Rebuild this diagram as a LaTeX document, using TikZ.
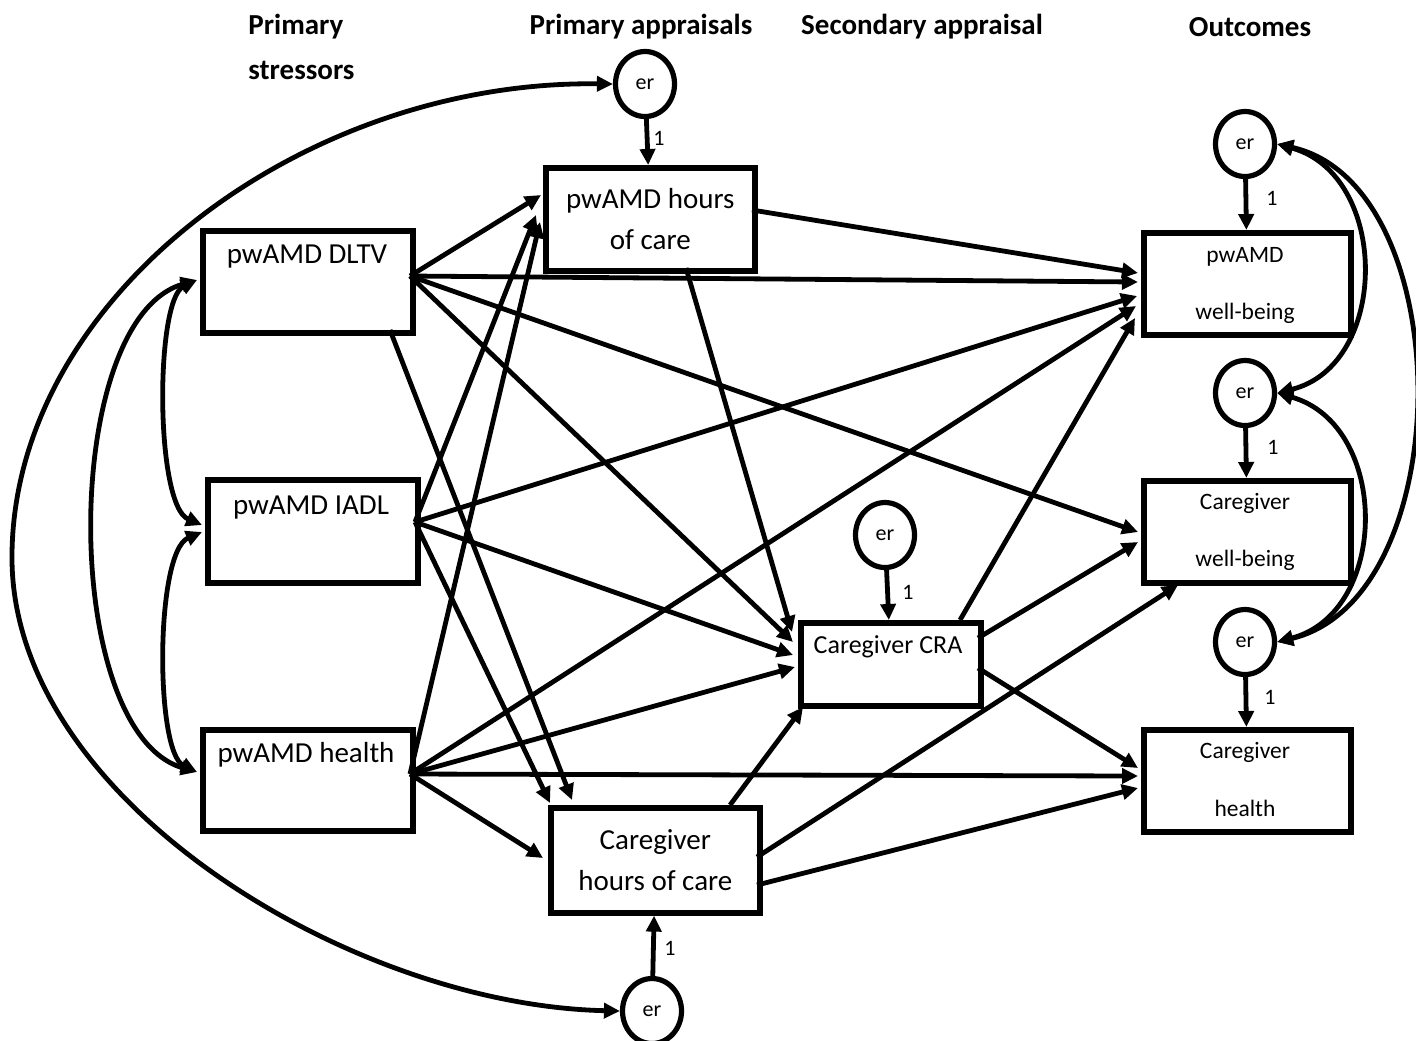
\documentclass[tikz,border=0pt]{standalone}
\usepackage{fontspec}
\setmainfont{Carlito}
\usetikzlibrary{arrows.meta,shapes.geometric,calc}
\newcommand\bigtxt{\fontsize{14.5}{20.5}\selectfont}
\newcommand\cratxt{\fontsize{13}{16}\selectfont}
\newcommand\outtxt{\fontsize{11.75}{29}\selectfont}
\newcommand\hdrtxt{\fontsize{14.5}{17}\selectfont\bfseries}
\newcommand\ertxt{\fontsize{11}{12}\selectfont}
\newcommand\onetxt{\fontsize{11}{12}\selectfont}
\begin{document}
\begin{tikzpicture}[x=0.5pt,y=-0.5pt,
  box/.style={draw,line width=2.8pt,anchor=north west,inner sep=0pt},
  er/.style={draw,ellipse,line width=2.6pt,minimum width=29.5pt,minimum height=32.5pt,inner sep=0pt,font=\ertxt},
  hdr/.style={inner sep=0pt,font=\hdrtxt},
  arr/.style={line width=2.4pt,-{Triangle[length=8pt,width=7.5pt]}},
  dbl/.style={line width=2.4pt,{Triangle[length=8pt,width=7.5pt]}-{Triangle[length=8pt,width=7.5pt]}},
  one/.style={inner sep=0pt,font=\onetxt}]
\fill[white] (0,0) rectangle (1416,1040);
\useasboundingbox (0,0) rectangle (1416,1040);

% headers
\node[hdr,anchor=west] (h1a) at (248,27) {Primary};
\node[hdr,anchor=west] (h1b) at (248,70) {stressors};
\node[hdr] (h2) at (641,27) {Primary appraisals};
\node[hdr] (h3) at (922,27) {Secondary appraisal};
\node[hdr] (h4) at (1250,27) {Outcomes};

% boxes
\node[box,minimum width=105pt,minimum height=51pt] (dltv) at (200,228) {};
\node[box,minimum width=105pt,minimum height=51.5pt] (iadl) at (205,477) {};
\node[box,minimum width=105pt,minimum height=50.5pt] (hlth) at (200,727) {};
\node[box,minimum width=104.5pt,minimum height=51.5pt,align=center,font=\bigtxt] (pwh) at (543,165) {pwAMD hours\\of care};
\node[box,minimum width=90pt,minimum height=41.5pt] (cra) at (798,620) {};
\node[box,minimum width=104.5pt,minimum height=52.5pt,align=center,font=\bigtxt] (cgh) at (548,805) {Caregiver\\hours of care};
\node[box,minimum width=103.5pt,minimum height=51pt] (pwb) at (1141,230) {};
\node[box,minimum width=103.5pt,minimum height=51pt] (cwb) at (1141,478) {};
\node[box,minimum width=103.5pt,minimum height=51pt] (chl) at (1141,727) {};

% box texts
\node[font=\bigtxt,inner sep=0pt] (dltvT) at (307,257) {pwAMD DLTV};
\node[font=\bigtxt,inner sep=0pt] (iadlT) at (311,508) {pwAMD IADL};
\node[font=\bigtxt,inner sep=0pt] (hlthT) at (306,755) {pwAMD health};
\node[font=\cratxt,inner sep=0pt] (craT) at (888,647) {Caregiver CRA};
\node[font=\outtxt,inner sep=0pt] (pwbT1) at (1245,257) {pwAMD};
\node[font=\outtxt,inner sep=0pt] (pwbT2) at (1245,313) {well-being};
\node[font=\outtxt,inner sep=0pt] (cwbT1) at (1245,503) {Caregiver};
\node[font=\outtxt,inner sep=0pt] (cwbT2) at (1245,560) {well-being};
\node[font=\outtxt,inner sep=0pt] (chlT1) at (1245,752) {Caregiver};
\node[font=\outtxt,inner sep=0pt] (chlT2) at (1245,808) {health};

% error terms
\node[er] (e1) at (645,84) {er};
\node[er] (e2) at (652,1011) {er};
\node[er] (e3) at (885,535) {er};
\node[er] (e4) at (1245,144) {er};
\node[er] (e5) at (1245,393) {er};
\node[er] (e6) at (1245,642) {er};

\node[one] (o1) at (659,138) {1};
\node[one] (o2) at (670,948) {1};
\node[one] (o3) at (908,592) {1};
\node[one] (o4) at (1272,198) {1};
\node[one] (o5) at (1273,447) {1};
\node[one] (o6) at (1270,697) {1};

% attachment points
\coordinate (dltvR) at ($(dltv.north west)+(210,48)$);
\coordinate (dltvB) at ($(dltv.north west)+(190,102)$);
\coordinate (dltvL) at ($(dltv.north west)+(-3,52)$);
\coordinate (iadlR) at ($(iadl.north west)+(210,45)$);
\coordinate (iadlL1) at ($(iadl.north west)+(-3,48)$);
\coordinate (iadlL2) at ($(iadl.north west)+(-3,55)$);
\coordinate (hlthR) at ($(hlth.north west)+(210,47)$);
\coordinate (hlthL) at ($(hlth.north west)+(-3,45)$);
\coordinate (pwhR) at ($(pwh.north west)+(209,45)$);
\coordinate (pwhB) at ($(pwh.north west)+(143,103)$);
\coordinate (pwhL1) at ($(pwh.north west)+(-2,30)$);
\coordinate (pwhL2) at ($(pwh.north west)+(-7,50)$);
\coordinate (pwhL3) at ($(pwh.north west)+(-3,57)$);
\coordinate (craTop) at ($(cra.north west)+(162,0)$);
\coordinate (craR1) at ($(cra.north west)+(180,18)$);
\coordinate (craR2) at ($(cra.north west)+(180,48)$);
\coordinate (craL1) at ($(cra.north west)+(-6,12)$);
\coordinate (craL2) at ($(cra.north west)+(-5,22)$);
\coordinate (craL3) at ($(cra.north west)+(-5,35)$);
\coordinate (craL4) at ($(cra.north west)+(-3,47)$);
\coordinate (craB) at ($(cra.north west)+(5,87)$);
\coordinate (cghTop) at ($(cgh.north west)+(182,0)$);
\coordinate (cghR1) at ($(cgh.north west)+(209,52)$);
\coordinate (cghR2) at ($(cgh.north west)+(209,80)$);
\coordinate (cghT1) at ($(cgh.north west)+(2,-2)$);
\coordinate (cghT2) at ($(cgh.north west)+(24,-5)$);
\coordinate (cghL) at ($(cgh.north west)+(-5,53)$);
\coordinate (pwbL1) at ($(pwb.north west)+(-3,43)$);
\coordinate (pwbL2) at ($(pwb.north west)+(-3,52)$);
\coordinate (pwbL3) at ($(pwb.north west)+(-4,66)$);
\coordinate (pwbL4) at ($(pwb.north west)+(-5,76)$);
\coordinate (pwbL5) at ($(pwb.north west)+(-6,88)$);
\coordinate (cwbL1) at ($(cwb.north west)+(-3,54)$);
\coordinate (cwbL2) at ($(cwb.north west)+(-3,64)$);
\coordinate (cwbB) at ($(cwb.north west)+(37,107)$);
\coordinate (chlL1) at ($(chl.north west)+(-3,41)$);
\coordinate (chlL2) at ($(chl.north west)+(-3,49)$);
\coordinate (chlL3) at ($(chl.north west)+(-3,61)$);

% directed paths
\draw[arr] (dltvR) -- (pwhL1);
\draw[arr] (dltvR) -- (pwbL2);
\draw[arr] (dltvR) -- (craL2);
\draw[arr] (dltvR) -- (cwbL1);
\draw[arr] (dltvB) -- (cghT2);
\draw[arr] (iadlR) -- (pwhL2);
\draw[arr] (iadlR) -- (pwbL3);
\draw[arr] (iadlR) -- (craL3);
\draw[arr] (iadlR) -- (cghT1);
\draw[arr] (hlthR) -- (pwhL3);
\draw[arr] (hlthR) -- (pwbL4);
\draw[arr] (hlthR) -- (craL4);
\draw[arr] (hlthR) -- (chlL2);
\draw[arr] (hlthR) -- (cghL);
\draw[arr] (pwhR) -- (pwbL1);
\draw[arr] (pwhB) -- (craL1);
\draw[arr] (cghTop) -- (craB);
\draw[arr] (cghR1) -- (cwbB);
\draw[arr] (cghR2) -- (chlL3);
\draw[arr] (craTop) -- (pwbL5);
\draw[arr] (craR1) -- (cwbL2);
\draw[arr] (craR2) -- (chlL1);

% error arrows
\draw[arr] (e1) -- (pwh);
\draw[arr] (e2) -- (cgh);
\draw[arr] (e3) -- (cra);
\draw[arr] (e4) -- (pwb);
\draw[arr] (e5) -- (cwb);
\draw[arr] (e6) -- (chl);

% covariances left
\draw[dbl] (dltvL) .. controls (155,300) and (155,505) .. (iadlL1);
\draw[dbl] (iadlL2) .. controls (155,552) and (155,752) .. (hlthL);
\draw[dbl] (dltvL) .. controls (60,320) and (60,732) .. (hlthL);
\draw[dbl] (e1.west) .. controls (300,80) and (10,300) .. (12,560) .. controls (14,800) and (350,1005) .. (e2.west);

% covariances right
\draw[dbl] (e4.east) .. controls (1390,175) and (1390,365) .. (e5.east);
\draw[dbl] (e5.east) .. controls (1390,425) and (1390,612) .. (e6.east);
\draw[dbl] (e4.east) .. controls (1460,185) and (1460,598) .. (e6.east);
\end{tikzpicture}
\end{document}
